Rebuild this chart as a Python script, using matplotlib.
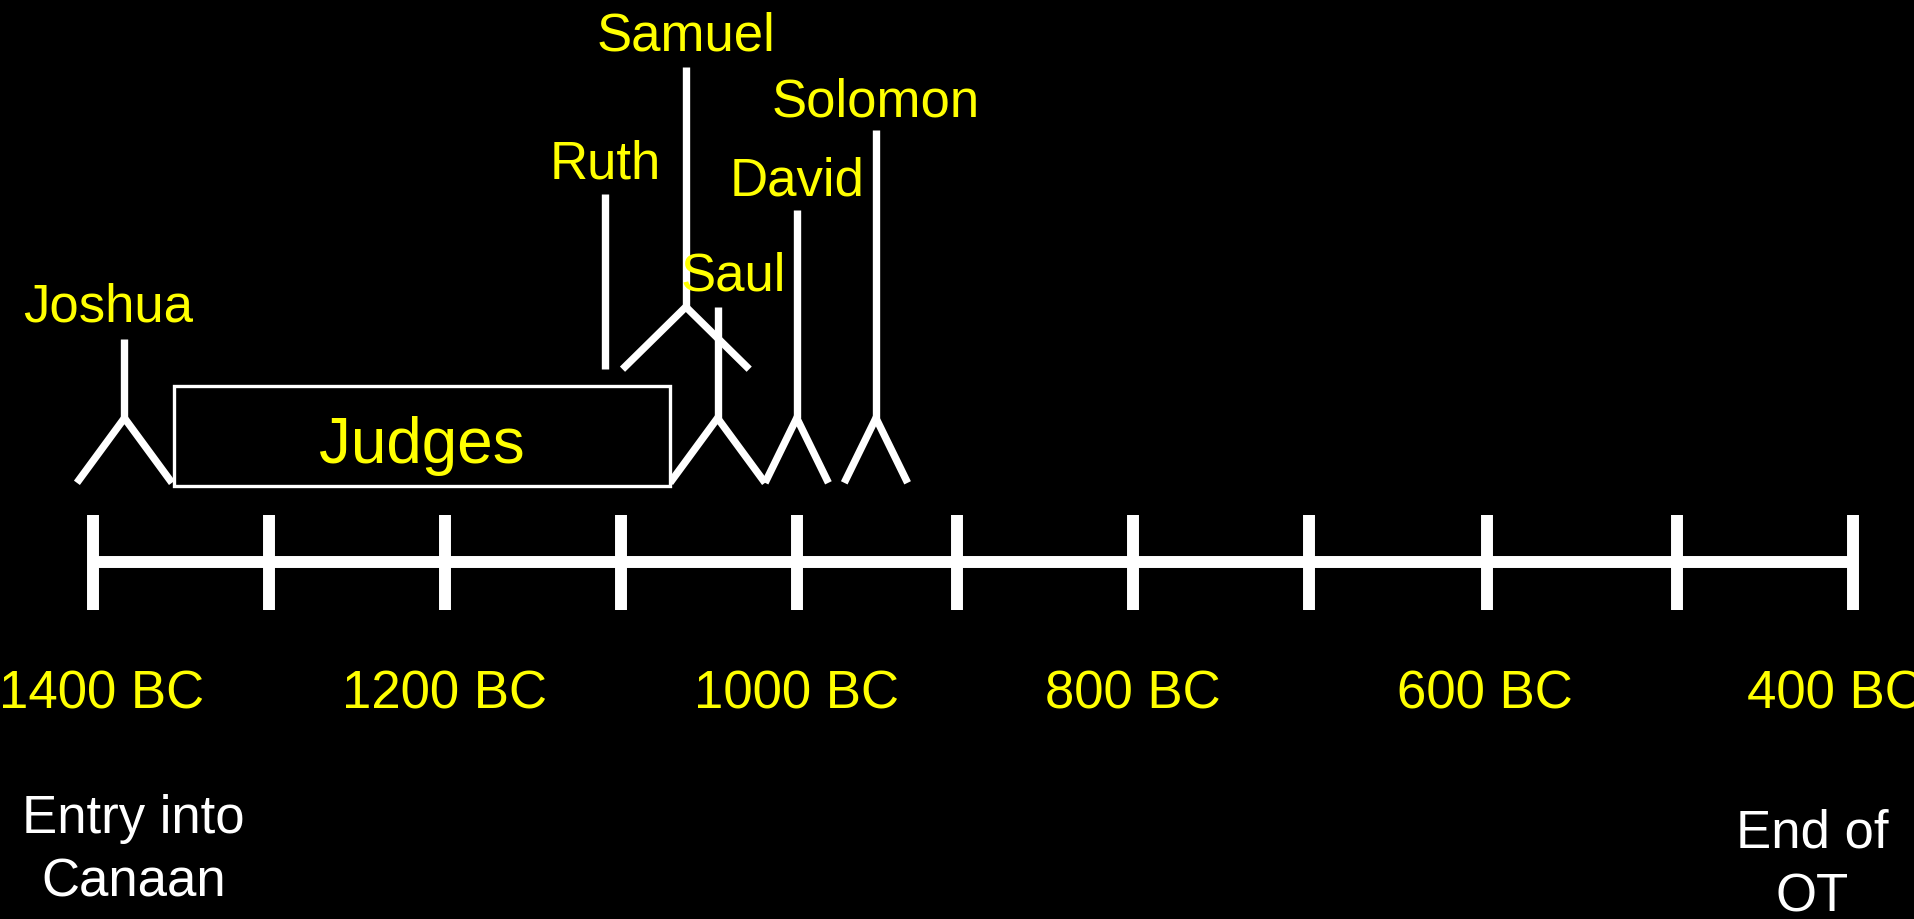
import matplotlib.pyplot as plt

plt.rcParams['font.family'] = ['Liberation Sans', 'DejaVu Sans']

# timeline in years BC, ticks as drawn on the original slide
tick_pos = [1400, 1300, 1200, 1100, 1000, 909, 809, 709, 608, 500, 400]
label_pos = [1395, 1200, 1000, 809, 609, 410]
label_text = ["1400 BC", "1200 BC", "1000 BC", "800 BC", "600 BC", "400 BC"]

# stick figures: year, top of stem, hip, feet, leg spread (years)
names = ["Joshua", "Samuel", "Saul", "David", "Solomon"]
years = [1382, 1063, 1045, 1000, 955]
tops = [183, 405, 209, 288, 354]
hips = [118, 209, 118, 118, 118]
feet = [65, 158, 65, 65, 65]
spread = [27, 36, 27, 18, 18]
name_x = [1391, 1063, 1036, 1000, 955]
name_y = [198, 420, 223, 301, 366]

# Ruth is just a single line
ruth_year = 1109
ruth_bottom, ruth_top = 158, 301
ruth_label = (1109, 315)

# Judges period box
judges_start, judges_end = 1354, 1072
judges_low, judges_high = 62, 144

fig = plt.figure(figsize=(19.15, 9.2), dpi=100, facecolor='black')
ax = fig.add_axes([0, 0, 1, 1])
ax.set_facecolor('black')
ax.set_xlim(1452.7, 364.6)
ax.set_ylim(-292, 461)
ax.axis('off')

# main line + ticks
ax.plot([tick_pos[0], tick_pos[-1]], [0, 0], color='white', lw=8.6, solid_capstyle='butt')
for t in tick_pos:
    ax.plot([t, t], [-39, 39], color='white', lw=8.6, solid_capstyle='butt')

for x, s in zip(label_pos, label_text):
    ax.text(x, -119, s, color='yellow', fontsize=38, ha='center', va='baseline')

# judges box
ax.add_patch(plt.Rectangle((judges_end, judges_low), judges_start - judges_end,
                           judges_high - judges_low, facecolor='black',
                           edgecolor='white', lw=2.4, zorder=3))
ax.text((judges_start + judges_end) / 2, 82, "Judges", color='yellow',
        fontsize=46, ha='center', va='baseline', zorder=4)

# people
for i in range(len(names)):
    x = years[i]
    ax.plot([x - spread[i], x, x + spread[i]], [feet[i], hips[i], feet[i]],
            color='white', lw=5.3, solid_capstyle='butt', solid_joinstyle='miter', zorder=2)
    ax.plot([x, x], [hips[i], tops[i]], color='white', lw=5.3, solid_capstyle='butt', zorder=2)
    ax.text(name_x[i], name_y[i], names[i], color='yellow', fontsize=38,
            ha='center', va='baseline', zorder=5)

ax.plot([ruth_year, ruth_year], [ruth_bottom, ruth_top], color='white', lw=5.3,
        solid_capstyle='butt')
ax.text(ruth_label[0], ruth_label[1], "Ruth", color='yellow', fontsize=38,
        ha='center', va='baseline')

# start / end notes
ax.text(1377, -221, "Entry into", color='white', fontsize=38, ha='center', va='baseline')
ax.text(1377, -273, "Canaan", color='white', fontsize=38, ha='center', va='baseline')
ax.text(423, -233, "End of", color='white', fontsize=38, ha='center', va='baseline')
ax.text(423, -285, "OT", color='white', fontsize=38, ha='center', va='baseline')

fig.savefig('out.png', dpi=100, facecolor='black')
